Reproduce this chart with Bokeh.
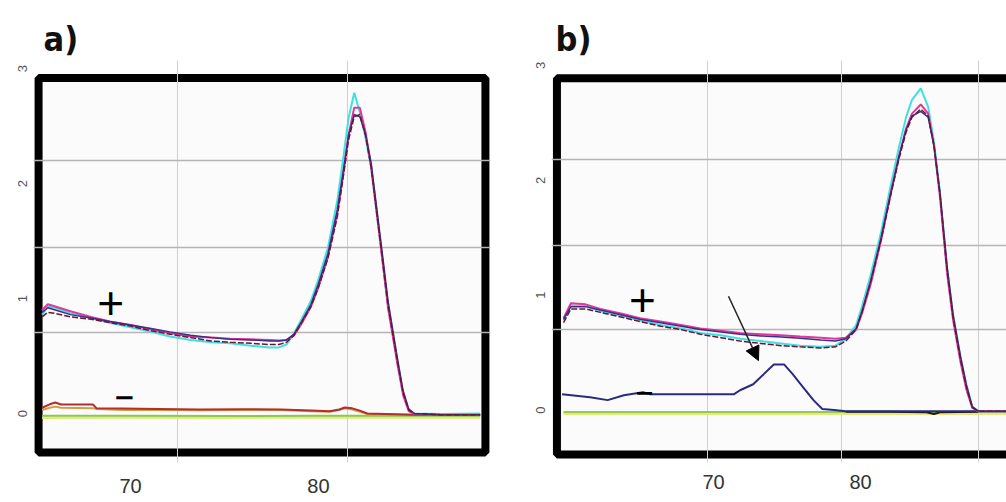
from bokeh.plotting import figure
from bokeh.layouts import row
from bokeh.models import Range1d, FixedTicker, BoxAnnotation, Arrow, NormalHead, Title
from bokeh.core.properties import value
from bokeh.embed import file_html
from bokeh.resources import INLINE

# ---------------- data ----------------
X_TICKS = [70, 80]
Y_TICKS = [0, 1, 2, 3]
X_LABELS = {70: "70", 80: "80"}

# panel a) positive samples
A_X = [65.3, 65.6, 66.0, 66.8, 67.9, 68.9, 70.0, 71.1, 72.1, 73.2, 74.3, 75.3, 76.4, 77.4, 77.9, 78.3,
       78.7, 79.1, 79.6, 80.0, 80.5, 81.0, 81.3, 81.6, 81.9, 82.2, 82.5, 82.8, 83.3, 83.7, 84.2, 84.5,
       84.8, 85.1, 86.5, 88.6]
A_CYAN = [0.86, 0.93, 0.92, 0.87, 0.83, 0.79, 0.75, 0.71, 0.67, 0.64, 0.62, 0.61, 0.59, 0.575, 0.575, 0.60,
          0.70, 0.82, 0.98, 1.17, 1.44, 1.85, 2.20, 2.57, 2.79, 2.62, 2.40, 2.14, 1.48, 0.94, 0.45, 0.18,
          0.03, 0.0, -0.005, 0.0]
A_MAGENTA = [0.90, 0.95, 0.93, 0.89, 0.84, 0.80, 0.77, 0.73, 0.70, 0.67, 0.66, 0.65, 0.645, 0.64, 0.635, 0.64,
             0.68, 0.78, 0.93, 1.10, 1.36, 1.74, 2.06, 2.42, 2.66, 2.66, 2.45, 2.15, 1.47, 0.92, 0.43, 0.16,
             0.02, -0.005, -0.01, -0.01]
A_DARKRED = [0.84, 0.88, 0.87, 0.84, 0.82, 0.79, 0.76, 0.72, 0.69, 0.66, 0.63, 0.62, 0.61, 0.60, 0.60, 0.62,
             0.68, 0.79, 0.93, 1.10, 1.35, 1.71, 2.04, 2.38, 2.58, 2.60, 2.42, 2.14, 1.48, 0.94, 0.45, 0.18,
             0.03, 0.0, -0.01, -0.01]
A_BLUE = [0.88, 0.92, 0.90, 0.86, 0.83, 0.80, 0.77, 0.74, 0.71, 0.68, 0.66, 0.645, 0.64, 0.63, 0.63, 0.64,
          0.69, 0.80, 0.95, 1.13, 1.39, 1.77, 2.09, 2.42, 2.60, 2.58, 2.43, 2.18, 1.52, 0.98, 0.48, 0.20,
          0.04, 0.0, -0.01, -0.01]

# panel a) negative samples
A_NEG_X = [65.3, 65.7, 66.0, 66.3, 68.0, 68.2, 69.6, 71.5, 73.7, 76.0, 78.0, 79.6, 80.6, 81.1, 81.4, 81.8,
           82.2, 82.6, 85.0, 88.6]
A_RED = [0.05, 0.08, 0.096, 0.078, 0.078, 0.045, 0.043, 0.04, 0.035, 0.037, 0.035, 0.026, 0.02, 0.035, 0.052,
         0.045, 0.025, 0.0, -0.01, -0.01]
A_ORANGE = [0.03, 0.05, 0.06, 0.05, 0.045, 0.04, 0.03, 0.032, 0.028, 0.03, 0.03, 0.02, 0.015, 0.03, 0.045,
            0.035, 0.015, -0.005, -0.01, -0.01]
A_FLAT_X = [65.3, 70.0, 75.0, 80.0, 85.0, 88.6]
A_GREEN = [-0.02, -0.02, -0.021, -0.02, -0.019, -0.02]
A_YELLOW = [-0.036, -0.035, -0.036, -0.035, -0.034, -0.035]

# panel b) positive samples
B_X = [59.8, 60.3, 61.3, 62.3, 63.7, 65.0, 66.4, 67.8, 69.1, 70.5, 71.8, 73.2, 74.6, 75.9, 77.3, 78.3,
       79.0, 79.7, 80.1, 80.7, 81.4, 82.0, 82.6, 83.1, 83.5, 84.1, 84.6, 85.0, 85.4, 85.9, 86.3, 86.8,
       87.2, 87.6, 88.0, 89.9]
B_CYAN = [0.78, 0.91, 0.905, 0.86, 0.82, 0.78, 0.74, 0.71, 0.67, 0.65, 0.62, 0.60, 0.58, 0.56, 0.55, 0.56,
          0.62, 0.74, 0.90, 1.18, 1.55, 1.92, 2.28, 2.55, 2.70, 2.80, 2.64, 2.33, 1.90, 1.22, 0.82, 0.46,
          0.22, 0.03, -0.01, -0.01]
B_MAGENTA = [0.80, 0.93, 0.92, 0.88, 0.84, 0.80, 0.77, 0.74, 0.71, 0.69, 0.67, 0.66, 0.65, 0.64, 0.63, 0.62,
             0.63, 0.70, 0.84, 1.10, 1.48, 1.85, 2.20, 2.45, 2.58, 2.66, 2.58, 2.30, 1.86, 1.18, 0.78, 0.42,
             0.18, 0.02, -0.01, -0.01]
B_DARKRED = [0.76, 0.88, 0.88, 0.85, 0.81, 0.77, 0.73, 0.70, 0.66, 0.63, 0.60, 0.58, 0.56, 0.55, 0.54, 0.55,
             0.60, 0.70, 0.85, 1.12, 1.48, 1.84, 2.18, 2.42, 2.55, 2.62, 2.56, 2.30, 1.88, 1.20, 0.80, 0.44,
             0.20, 0.02, -0.01, -0.01]
B_BLUE = [0.79, 0.90, 0.90, 0.87, 0.83, 0.79, 0.76, 0.73, 0.70, 0.68, 0.66, 0.645, 0.635, 0.625, 0.61, 0.60,
          0.62, 0.71, 0.86, 1.13, 1.50, 1.86, 2.20, 2.44, 2.56, 2.60, 2.55, 2.30, 1.90, 1.24, 0.83, 0.47,
          0.22, 0.03, -0.01, -0.01]

# panel b) negative samples (one with a primer-dimer peak)
B_NEG_X = [59.7, 61.6, 62.8, 63.9, 65.2, 65.7, 71.4, 71.8, 72.7, 73.4, 74.1, 74.8, 75.4, 76.1, 76.8, 77.4,
           78.2, 79.0, 88.0, 89.9]
B_DIMER = [0.138, 0.112, 0.086, 0.129, 0.155, 0.138, 0.138, 0.172, 0.224, 0.310, 0.397, 0.397, 0.310, 0.198,
           0.086, 0.009, 0.0, -0.01, -0.01, -0.01]
B_BLACK_X = [79.0, 82.0, 84.5, 85.0, 85.4, 88.0]
B_BLACK = [-0.015, -0.015, -0.02, -0.035, -0.02, -0.015]
B_FLAT_X = [59.8, 65.0, 70.0, 75.0, 78.6, 89.9]
B_GREEN = [-0.018, -0.018, -0.017, -0.018, -0.018, -0.018]
B_YELLOW = [-0.032, -0.031, -0.032, -0.032, -0.031, -0.032]

CYAN = "#3ee0e0"
MAGENTA = "#e0389a"
DARKRED = "#6e1530"
BLUE = "#3a2f8c"


def make_panel(label, width, border_left, border_right, border_bottom, x_range, y_range, box,
               grid_x, grid_y, x_standoff, title_offset):
    p = figure(width=width, height=502, output_backend="svg", toolbar_location=None,
               x_range=Range1d(*x_range), y_range=Range1d(*y_range),
               min_border_left=border_left, min_border_right=border_right,
               min_border_top=60, min_border_bottom=border_bottom,
               background_fill_color="white", border_fill_color="white",
               outline_line_color=None)
    p.add_layout(Title(text=label, text_font="DejaVu Sans Condensed", text_font_size="34px",
                       text_font_style="bold", text_color="#111111", align="left",
                       offset=title_offset, standoff=4), "above")
    frame = BoxAnnotation(left=box[0], right=box[1], bottom=box[2], top=box[3],
                          fill_color="#fbfbfb", fill_alpha=1.0, line_color="black",
                          line_alpha=1.0, line_width=8, level="image")
    p.add_layout(frame)

    p.xgrid.ticker = FixedTicker(ticks=grid_x)
    p.ygrid.ticker = FixedTicker(ticks=grid_y)
    p.xgrid.grid_line_color = "#cfcfcf"
    p.ygrid.grid_line_color = "#b5b5b5"
    p.ygrid.grid_line_width = 1.5

    p.xaxis.ticker = FixedTicker(ticks=X_TICKS)
    p.xaxis.major_label_overrides = X_LABELS
    p.yaxis.ticker = FixedTicker(ticks=Y_TICKS)
    for ax in (p.xaxis, p.yaxis):
        ax.axis_line_color = None
        ax.major_tick_line_color = None
        ax.minor_tick_line_color = None
        ax.major_tick_in = 0
        ax.major_tick_out = 0
    p.xaxis.major_label_text_font = "Liberation Sans"
    p.xaxis.major_label_text_font_size = "20px"
    p.xaxis.major_label_text_color = "#333333"
    p.xaxis.major_label_standoff = x_standoff
    p.yaxis.major_label_text_font = "Liberation Sans"
    p.yaxis.major_label_text_font_size = "13px"
    p.yaxis.major_label_text_color = "#555555"
    p.yaxis.major_label_orientation = "vertical"
    p.yaxis.major_label_standoff = 6
    return p


# ---------------- panel a ----------------
pa = make_panel("a)", 500, 33, 10, 40, (64.84, 89.15), (-0.426, 3.07), (65.11, 88.88, -0.339, 2.917),
                [72.5, 81.54], [0.704, 1.443, 2.2], 16, 10)
pa.line(A_FLAT_X, A_YELLOW, line_color="#f1e37a", line_width=2.5)
pa.line(A_FLAT_X, A_GREEN, line_color="#7fcf4e", line_width=2)
pa.line(A_NEG_X, A_ORANGE, line_color="#d69a45", line_width=2)
pa.line(A_NEG_X, A_RED, line_color="#b0302c", line_width=2)
pa.line(A_X, A_CYAN, line_color=CYAN, line_width=2)
pa.line(A_X, A_MAGENTA, line_color=MAGENTA, line_width=2)
pa.line(A_X, A_BLUE, line_color=BLUE, line_width=1.5)
pa.line(A_X, A_DARKRED, line_color=DARKRED, line_width=1.5, line_dash="6 2")
pa.text(x=[68.94], y=[0.96], text=["+"], text_font=value("Liberation Sans"), text_font_size="46px",
        text_align="center", text_baseline="middle", text_color="black")
pa.text(x=[69.68], y=[0.15], text=["\u2212"], text_font=value("DejaVu Sans"), text_font_size="26px",
        text_font_style="bold", text_align="center", text_baseline="middle", text_color="black")

# ---------------- panel b ----------------
pb = make_panel("b)", 506, 51, 0, 36, (58.98, 89.93), (-0.457, 3.043), (59.35, 92.0, -0.388, 2.888),
                [69.59, 78.71, 88.03], [0.698, 1.431, 2.181], 12, 4)
pb.line(B_FLAT_X, B_YELLOW, line_color="#f1e37a", line_width=2.5)
pb.line(B_FLAT_X, B_GREEN, line_color="#8ccf4e", line_width=2)
pb.line(B_BLACK_X, B_BLACK, line_color="#1a1a1a", line_width=2)
pb.line(B_NEG_X, B_DIMER, line_color="#2c2a80", line_width=2)
pb.line(B_X, B_CYAN, line_color=CYAN, line_width=2)
pb.line(B_X, B_MAGENTA, line_color=MAGENTA, line_width=2)
pb.line(B_X, B_BLUE, line_color=BLUE, line_width=1.5)
pb.line(B_X, B_DARKRED, line_color=DARKRED, line_width=1.5, line_dash="6 2")
pb.text(x=[65.17], y=[0.96], text=["+"], text_font=value("Liberation Sans"), text_font_size="46px",
        text_align="center", text_baseline="middle", text_color="black")
pb.text(x=[65.3], y=[0.16], text=["\u2212"], text_font=value("DejaVu Sans"), text_font_size="24px",
        text_font_style="bold", text_align="center", text_baseline="middle", text_color="black")
pb.add_layout(Arrow(end=NormalHead(size=14, fill_color="black", line_color="black"),
                    x_start=71.02, y_start=0.99, x_end=73.06, y_end=0.43,
                    line_color="#222222", line_width=1.5))

layout = row(pa, pb)
open("out.html", "w").write(file_html(layout, INLINE))
